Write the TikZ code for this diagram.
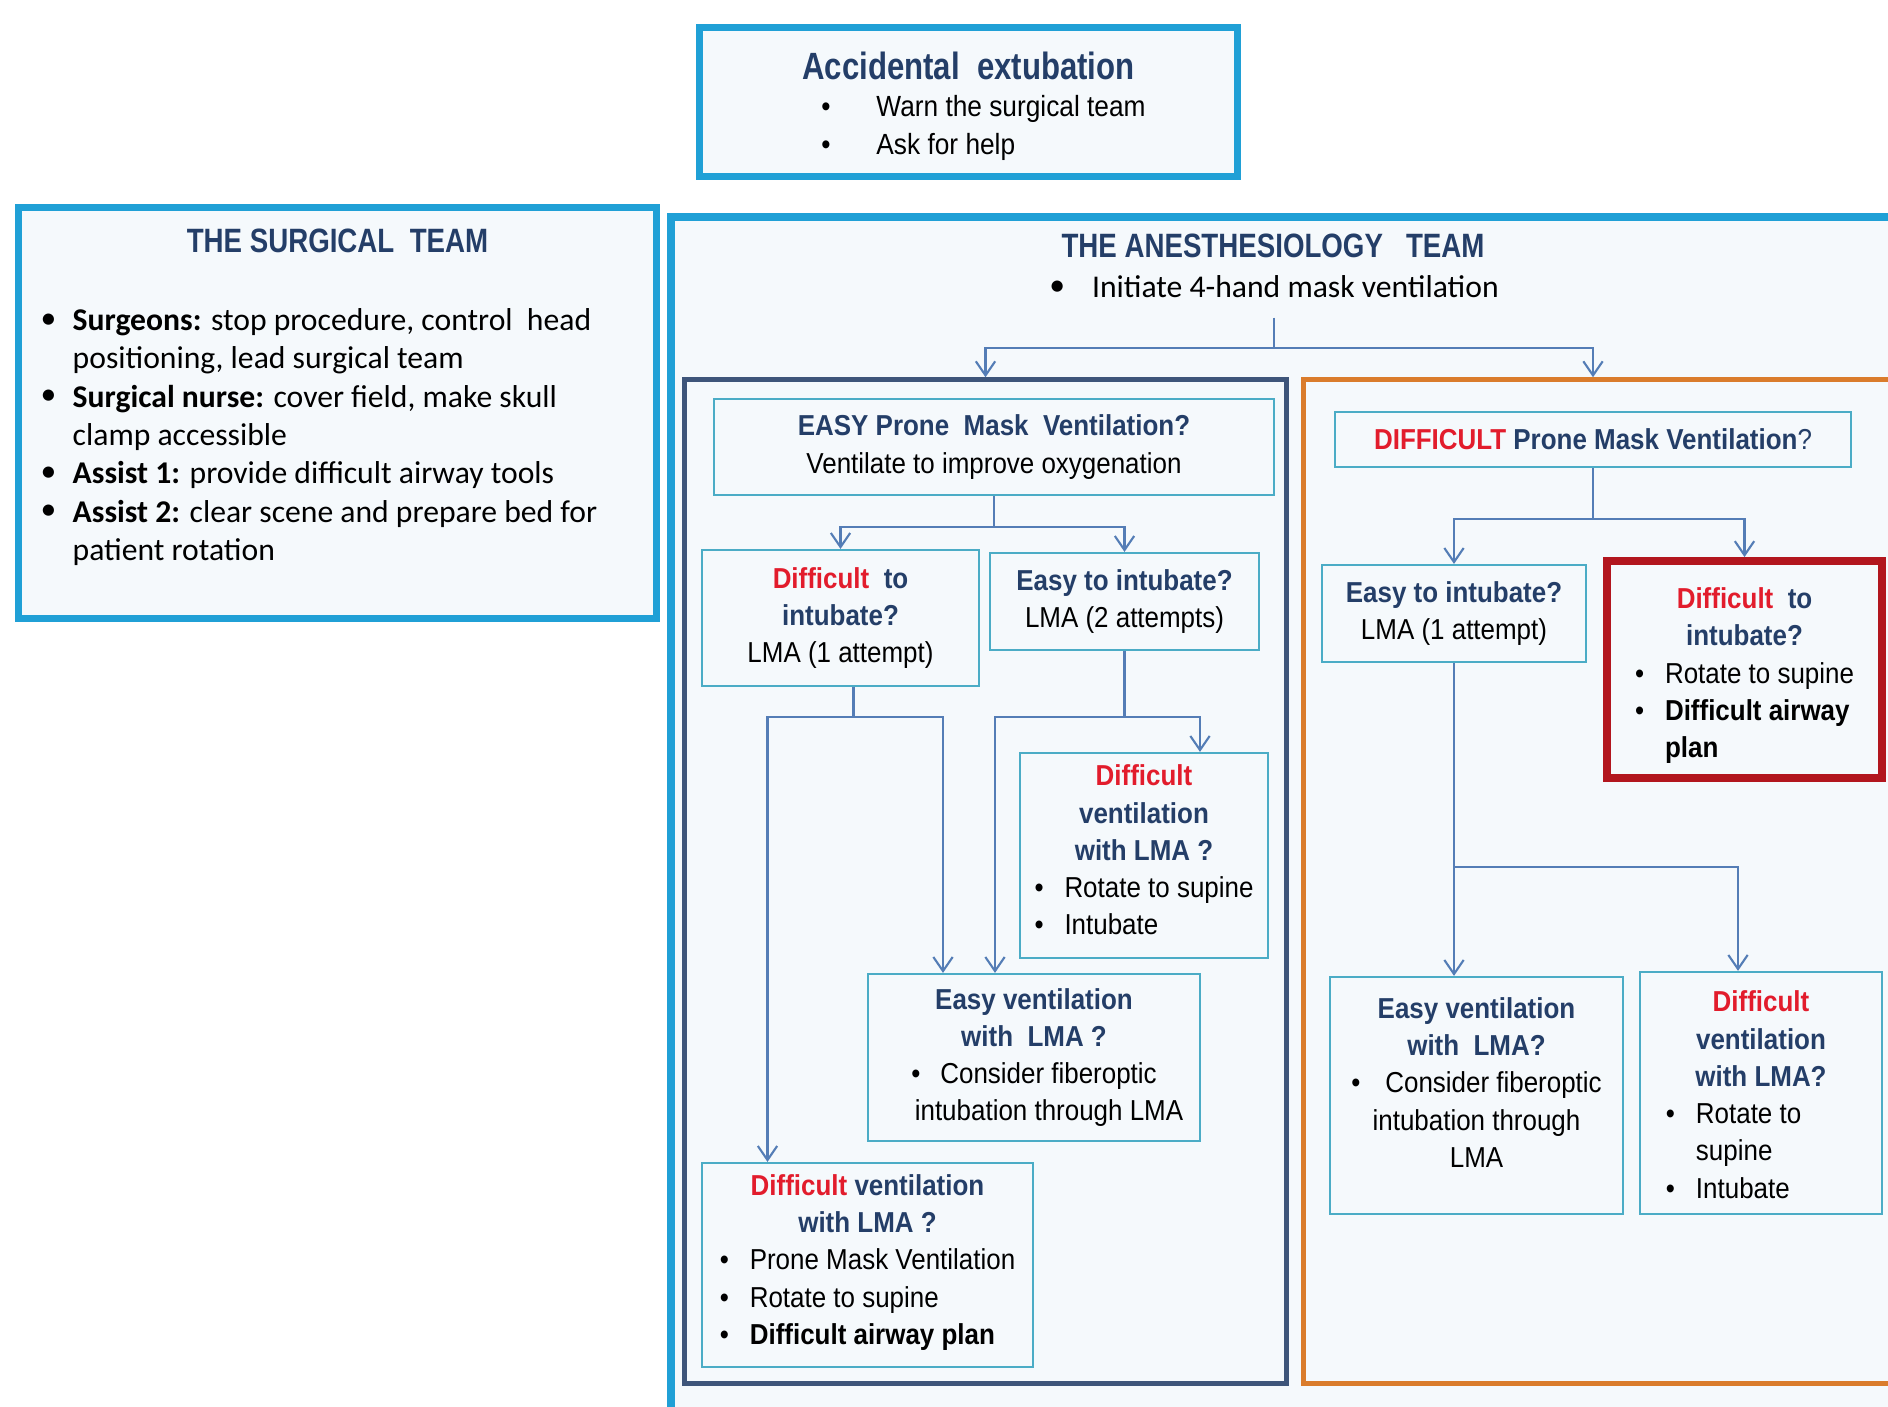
\documentclass[tikz,border=0pt]{standalone}
\usepackage{fontspec}
\setmainfont{Liberation Sans}[FakeStretch=0.9]
\newfontfamily\calib{Carlito}
\newfontfamily\narrowbf{Liberation Sans Bold}[FakeStretch=0.82]
\usetikzlibrary{positioning,calc,arrows.meta}

\definecolor{teamcyan}{RGB}{32,160,214}
\definecolor{boxteal}{RGB}{75,172,198}
\definecolor{linkblue}{RGB}{84,125,182}
\definecolor{easyblue}{RGB}{62,85,122}
\definecolor{hardorange}{RGB}{218,124,44}
\definecolor{alertred}{RGB}{178,22,30}
\definecolor{headblue}{RGB}{36,62,104}
\definecolor{wordred}{RGB}{226,28,44}
\definecolor{paper}{RGB}{245,249,252}

\newcommand{\hard}[1]{\textcolor{wordred}{\textbf{#1}}}
\newcommand{\hd}[1]{\textcolor{headblue}{\textbf{#1}}}
\newcommand{\sbul}{\raisebox{0.15ex}{\small\textbullet}}

\tikzset{
  teambox/.style={draw=teamcyan, line width=2pt, fill=paper},
  panel/.style={line width=1.4pt, fill=paper, minimum height=10.03cm},
  qbox/.style={draw=boxteal, line width=0.6pt, fill=paper, align=center, inner sep=0pt,
    font=\fontsize{8.2}{10.6}\selectfont},
  teamtitle/.style={text=headblue, font=\narrowbf\fontsize{9.6}{11}\selectfont},
  link/.style={draw=linkblue, line width=0.6pt},
  arr/.style={link, -{Straight Barb[length=4pt,width=5.5pt]}},
}

\begin{document}
\begin{tikzpicture}[x=0.01cm,y=-0.01cm]
\useasboundingbox (0,0) rectangle (1888,1406);
\clip (0,0) rectangle (1888,1406);
\fill[white] (0,0) rectangle (1888,1406);

\node[teambox, align=center, inner sep=0pt, minimum width=5.37cm, minimum height=1.48cm] (acc) at (968.5,102) {%
  \rule{0pt}{12pt}{\narrowbf\fontsize{10.8}{13}\selectfont\color{headblue}Accidental\ \ extubation}\\[-1.5pt]
  \fontsize{8.3}{10.8}\selectfont
  \hspace*{0.3cm}\begin{tabular}[t]{@{}p{0.55cm}@{}l@{}}
  \textbullet & Warn\ the surgical team\\
  \textbullet & Ask for help
  \end{tabular}};

\node[teambox, minimum width=6.37cm, minimum height=4.10cm] (surg) at (337.5,413) {};
\node[teamtitle] (surgt) at (337.5,241) {THE SURGICAL\ \ TEAM};
\node[anchor=north west, inner sep=0pt, font=\calib\fontsize{9}{10.9}\selectfont] (surgl) at (40,303) {%
  \begin{tabular}{@{}p{0.32cm}@{}l@{}}
  \sbul & \textbf{Surgeons:} stop procedure, control\ \ head\\
   & positioning, lead surgical team\\
  \sbul & \textbf{Surgical nurse:} cover field, make skull\\
   & clamp accessible\\
  \sbul & \textbf{Assist 1:} provide difficult airway tools\\
  \sbul & \textbf{Assist 2:} clear scene and prepare bed for\\
   & patient rotation
  \end{tabular}};

\draw[teambox] (671,217) rectangle (1960,1460);
\node[teamtitle] (anest) at (1273,246) {THE ANESTHESIOLOGY\ \ \ TEAM};
\node[font=\calib\fontsize{9}{10.9}\selectfont] (init) at (1274,287) {\sbul\hspace{0.27cm}Initiate 4-hand mask ventilation};

\node[panel, draw=easyblue, minimum width=6.01cm] (easyp) at (985.5,881.5) {};
\node[panel, draw=hardorange, minimum width=6.06cm] (hardp) at (1607,881.5) {};

\node[qbox, minimum width=5.60cm, minimum height=0.96cm] (eprone) at (994,447)
  {\hd{EASY Prone\ \ Mask\ \ Ventilation?}\\Ventilate to improve oxygenation};
\node[qbox, minimum width=2.77cm, minimum height=1.36cm] (dint) at (840.5,618)
  {\hard{Difficult}\ \ \hd{to}\\\hd{intubate?}\\LMA (1 attempt)};
\node[qbox, minimum width=2.69cm, minimum height=0.97cm] (eint2) at (1124.5,601.5)
  {\hd{Easy to intubate?}\\LMA (2 attempts)};
\node[qbox, minimum width=2.48cm, minimum height=2.05cm] (dvent1) at (1144,855.5)
  {\hard{Difficult}\\\hd{ventilation}\\\hd{with LMA ?}\\
   \begin{tabular}[t]{@{}p{0.30cm}@{}l@{}}\textbullet & Rotate to supine\\\textbullet & Intubate\end{tabular}};
\node[qbox, minimum width=3.32cm, minimum height=1.67cm] (event1) at (1034,1057.5)
  {\hd{Easy ventilation}\\\hd{with\ \ LMA ?}\\\textbullet\hspace{0.2cm}Consider fiberoptic\\\hspace*{0.3cm}intubation through LMA};
\node[qbox, minimum width=3.31cm, minimum height=2.04cm] (dvent2) at (867.5,1265)
  {\hard{Difficult} \hd{ventilation}\\\hd{with LMA ?}\\
   \begin{tabular}[t]{@{}p{0.30cm}@{}l@{}}\textbullet & Prone Mask Ventilation\\\textbullet & Rotate to supine\\
   \textbullet & \textbf{Difficult airway plan}\end{tabular}};

\node[qbox, minimum width=5.16cm, minimum height=0.55cm] (dprone) at (1593,439.5)
  {\hard{DIFFICULT} \hd{Prone Mask Ventilation}\textcolor{headblue}{?}};
\node[qbox, minimum width=2.64cm, minimum height=0.97cm] (eint1) at (1454,613.5)
  {\hd{Easy to intubate?}\\LMA (1 attempt)};
\node[qbox, draw=alertred, line width=2.2pt, minimum width=2.75cm, minimum height=2.17cm] (dint2) at (1744.5,669.5)
  {\rule{0pt}{11pt}\hard{Difficult}\ \ \hd{to}\\\hd{intubate?}\\
   \begin{tabular}[t]{@{}p{0.30cm}@{}l@{}}\textbullet & Rotate to supine\\\textbullet & \textbf{Difficult airway}\\ & \textbf{plan}\end{tabular}};
\node[qbox, minimum width=2.93cm, minimum height=2.37cm] (event2) at (1476.5,1095.5)
  {\hd{Easy ventilation}\\\hd{with\ \ LMA?}\\\textbullet\hspace{0.25cm}Consider fiberoptic\\intubation through\\LMA\rule[-7.5pt]{0pt}{7.5pt}};
\node[qbox, minimum width=2.42cm, minimum height=2.42cm] (dvent3) at (1761,1093)
  {\rule{0pt}{10pt}\hard{Difficult}\\\hd{ventilation}\\\hd{with LMA?}\\
   \begin{tabular}[t]{@{}p{0.30cm}@{}p{1.6cm}@{}}\textbullet & Rotate to\\ & supine\\\textbullet & Intubate\end{tabular}};

\draw[link] ([yshift=-2pt]init.south) -- ++(0,30) coordinate (s0);
\draw[arr] (s0) -| (easyp.north);
\draw[arr] (s0) -| (hardp.north -| dprone.north);

\draw[link] (eprone.south) -- ++(0,31) coordinate (s1);
\draw[arr] (s1) -| (dint.north);
\draw[arr] (s1) -| (eint2.north);
\draw[link] ($(dint.south)+(13,0)$) -- ++(0,30) coordinate (s2);
\draw[arr] (s2) -| ($(dvent2.north)+(-100,0)$);
\draw[arr] (s2) -| ($(event1.north)+(-91,0)$);
\draw[link] (eint2.south) -- ++(0,66) coordinate (s3);
\draw[arr] (s3) -| ($(dvent1.north)+(56,0)$);
\draw[arr] (s3) -| ($(event1.north)+(-39,0)$);

\draw[link] (dprone.south) -- ++(0,51) coordinate (s4);
\draw[arr] (s4) -| (eint1.north);
\draw[arr] (s4) -| (dint2.north);
\draw[arr] (eint1.south) -- (eint1.south |- event2.north);
\draw[arr] ($(eint1.south)+(0,204)$) -| ($(dvent3.north)+(-23,0)$);
\end{tikzpicture}
\end{document}
